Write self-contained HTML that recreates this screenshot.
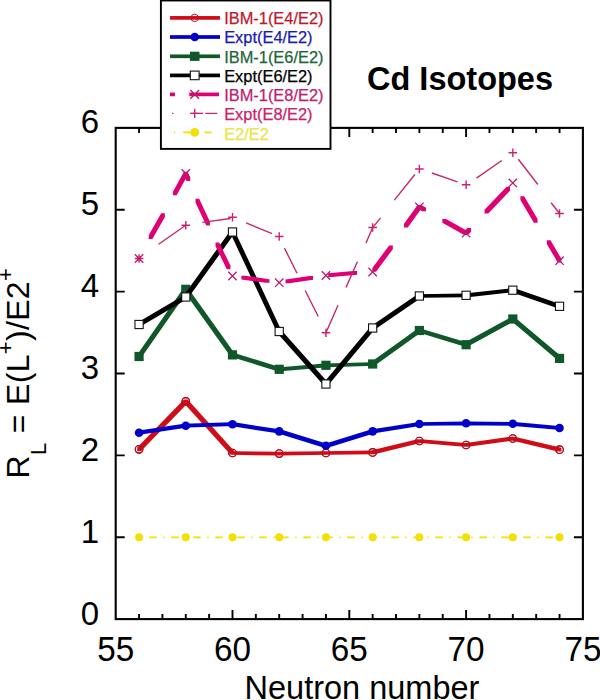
<!DOCTYPE html><html><head><meta charset="utf-8"><style>html,body{margin:0;padding:0;background:#fff;width:600px;height:700px;overflow:hidden}svg{display:block}text{font-family:"Liberation Sans",sans-serif}</style></head><body>
<svg width="600" height="700" viewBox="0 0 600 700">
<rect width="600" height="700" fill="#fff"/>
<rect x="115.7" y="127.88" width="467.20" height="491.22" fill="none" stroke="#000" stroke-width="2.1"/>
<path d="M139.06,619.10v-5M139.06,127.88v5M162.42,619.10v-5M162.42,127.88v5M185.78,619.10v-5M185.78,127.88v5M209.14,619.10v-5M209.14,127.88v5M232.50,619.10v-9M232.50,127.88v9M255.86,619.10v-5M255.86,127.88v5M279.22,619.10v-5M279.22,127.88v5M302.58,619.10v-5M302.58,127.88v5M325.94,619.10v-5M325.94,127.88v5M349.30,619.10v-9M349.30,127.88v9M372.66,619.10v-5M372.66,127.88v5M396.02,619.10v-5M396.02,127.88v5M419.38,619.10v-5M419.38,127.88v5M442.74,619.10v-5M442.74,127.88v5M466.10,619.10v-9M466.10,127.88v9M489.46,619.10v-5M489.46,127.88v5M512.82,619.10v-5M512.82,127.88v5M536.18,619.10v-5M536.18,127.88v5M559.54,619.10v-5M559.54,127.88v5M115.70,537.23h9M582.90,537.23h-9M115.70,455.36h9M582.90,455.36h-9M115.70,373.49h9M582.90,373.49h-9M115.70,291.62h9M582.90,291.62h-9M115.70,209.75h9M582.90,209.75h-9" stroke="#000" stroke-width="1.9" fill="none"/>
<text x="99.2" y="624.70" font-size="33" text-anchor="end">0</text>
<text x="99.2" y="542.83" font-size="33" text-anchor="end">1</text>
<text x="99.2" y="460.96" font-size="33" text-anchor="end">2</text>
<text x="99.2" y="379.09" font-size="33" text-anchor="end">3</text>
<text x="99.2" y="297.22" font-size="33" text-anchor="end">4</text>
<text x="99.2" y="215.35" font-size="33" text-anchor="end">5</text>
<text x="99.2" y="133.48" font-size="33" text-anchor="end">6</text>
<text transform="translate(115.70,661.3) scale(0.965,1)" font-size="34.5" text-anchor="middle">55</text>
<text transform="translate(232.50,661.3) scale(0.965,1)" font-size="34.5" text-anchor="middle">60</text>
<text transform="translate(349.30,661.3) scale(0.965,1)" font-size="34.5" text-anchor="middle">65</text>
<text transform="translate(466.10,661.3) scale(0.965,1)" font-size="34.5" text-anchor="middle">70</text>
<text transform="translate(582.90,661.3) scale(0.965,1)" font-size="34.5" text-anchor="middle">75</text>
<text x="362" y="699.3" font-size="32.5" text-anchor="middle">Neutron number</text>
<text transform="translate(29.3,478.4) rotate(-90)" font-size="32" letter-spacing="0.32">R<tspan font-size="22" dy="16.5">L</tspan><tspan dy="-16.5"> = E(L</tspan><tspan font-size="22" dy="-16.6">+</tspan><tspan dy="16.6">)/E2</tspan><tspan font-size="22" dy="-16.6">+</tspan></text>
<text x="367" y="89.6" font-size="32.5" font-weight="bold">Cd Isotopes</text>
<polyline points="139.06,537.3 185.78,537.3 232.50,537.3 279.22,537.3 325.94,537.3 372.66,537.3 419.38,537.3 466.10,537.3 512.82,537.3 559.54,537.3" fill="none" stroke="#f2e000" stroke-width="1.7" stroke-dasharray="7.5 6.5 1.3 6.71" stroke-dashoffset="11.87"/>
<circle cx="139.06" cy="537.3" r="4" fill="#f2e000"/>
<circle cx="185.78" cy="537.3" r="4" fill="#f2e000"/>
<circle cx="232.50" cy="537.3" r="4" fill="#f2e000"/>
<circle cx="279.22" cy="537.3" r="4" fill="#f2e000"/>
<circle cx="325.94" cy="537.3" r="4" fill="#f2e000"/>
<circle cx="372.66" cy="537.3" r="4" fill="#f2e000"/>
<circle cx="419.38" cy="537.3" r="4" fill="#f2e000"/>
<circle cx="466.10" cy="537.3" r="4" fill="#f2e000"/>
<circle cx="512.82" cy="537.3" r="4" fill="#f2e000"/>
<circle cx="559.54" cy="537.3" r="4" fill="#f2e000"/>
<circle cx="139.06" cy="449.3" r="3.8" fill="#fff" stroke="#a8101c" stroke-width="1.1"/>
<circle cx="185.78" cy="401.4" r="3.8" fill="#fff" stroke="#a8101c" stroke-width="1.1"/>
<circle cx="232.50" cy="453" r="3.8" fill="#fff" stroke="#a8101c" stroke-width="1.1"/>
<circle cx="279.22" cy="453.6" r="3.8" fill="#fff" stroke="#a8101c" stroke-width="1.1"/>
<circle cx="325.94" cy="453" r="3.8" fill="#fff" stroke="#a8101c" stroke-width="1.1"/>
<circle cx="372.66" cy="452.4" r="3.8" fill="#fff" stroke="#a8101c" stroke-width="1.1"/>
<circle cx="419.38" cy="441" r="3.8" fill="#fff" stroke="#a8101c" stroke-width="1.1"/>
<circle cx="466.10" cy="445" r="3.8" fill="#fff" stroke="#a8101c" stroke-width="1.1"/>
<circle cx="512.82" cy="438.5" r="3.8" fill="#fff" stroke="#a8101c" stroke-width="1.1"/>
<circle cx="559.54" cy="449.7" r="3.8" fill="#fff" stroke="#a8101c" stroke-width="1.1"/>
<path d="M137.21,447.45L183.93,399.55L187.63,399.55L187.63,403.25L140.91,451.15L137.21,451.15ZM183.93,399.55L187.63,399.55L234.35,451.15L234.35,454.85L230.65,454.85L183.93,403.25ZM230.65,451.15L234.35,451.15L281.07,451.75L281.07,455.45L277.37,455.45L230.65,454.85ZM277.37,451.75L324.09,451.15L327.79,451.15L327.79,454.85L281.07,455.45L277.37,455.45ZM324.09,451.15L370.81,450.55L374.51,450.55L374.51,454.25L327.79,454.85L324.09,454.85ZM370.81,450.55L417.53,439.15L421.23,439.15L421.23,442.85L374.51,454.25L370.81,454.25ZM417.53,439.15L421.23,439.15L467.95,443.15L467.95,446.85L464.25,446.85L417.53,442.85ZM464.25,443.15L510.97,436.65L514.67,436.65L514.67,440.35L467.95,446.85L464.25,446.85ZM510.97,436.65L514.67,436.65L561.39,447.85L561.39,451.55L557.69,451.55L510.97,440.35Z" fill="#d00c18"/>
<circle cx="139.06" cy="449.3" r="3.8" fill="none" stroke="#a8101c" stroke-width="1.1"/>
<circle cx="185.78" cy="401.4" r="3.8" fill="none" stroke="#a8101c" stroke-width="1.1"/>
<circle cx="232.50" cy="453" r="3.8" fill="none" stroke="#a8101c" stroke-width="1.1"/>
<circle cx="279.22" cy="453.6" r="3.8" fill="none" stroke="#a8101c" stroke-width="1.1"/>
<circle cx="325.94" cy="453" r="3.8" fill="none" stroke="#a8101c" stroke-width="1.1"/>
<circle cx="372.66" cy="452.4" r="3.8" fill="none" stroke="#a8101c" stroke-width="1.1"/>
<circle cx="419.38" cy="441" r="3.8" fill="none" stroke="#a8101c" stroke-width="1.1"/>
<circle cx="466.10" cy="445" r="3.8" fill="none" stroke="#a8101c" stroke-width="1.1"/>
<circle cx="512.82" cy="438.5" r="3.8" fill="none" stroke="#a8101c" stroke-width="1.1"/>
<circle cx="559.54" cy="449.7" r="3.8" fill="none" stroke="#a8101c" stroke-width="1.1"/>
<path d="M137.21,430.85L183.93,423.85L187.63,423.85L187.63,427.55L140.91,434.55L137.21,434.55ZM183.93,423.85L230.65,422.35L234.35,422.35L234.35,426.05L187.63,427.55L183.93,427.55ZM230.65,422.35L234.35,422.35L281.07,429.55L281.07,433.25L277.37,433.25L230.65,426.05ZM277.37,429.55L281.07,429.55L327.79,443.95L327.79,447.65L324.09,447.65L277.37,433.25ZM324.09,443.95L370.81,429.55L374.51,429.55L374.51,433.25L327.79,447.65L324.09,447.65ZM370.81,429.55L417.53,422.15L421.23,422.15L421.23,425.85L374.51,433.25L370.81,433.25ZM417.53,422.15L464.25,421.45L467.95,421.45L467.95,425.15L421.23,425.85L417.53,425.85ZM464.25,421.45L467.95,421.45L514.67,421.95L514.67,425.65L510.97,425.65L464.25,425.15ZM510.97,421.95L514.67,421.95L561.39,426.15L561.39,429.85L557.69,429.85L510.97,425.65Z" fill="#0000c8"/>
<circle cx="139.06" cy="432.7" r="4.3" fill="#0000c8"/>
<circle cx="185.78" cy="425.7" r="4.3" fill="#0000c8"/>
<circle cx="232.50" cy="424.2" r="4.3" fill="#0000c8"/>
<circle cx="279.22" cy="431.4" r="4.3" fill="#0000c8"/>
<circle cx="325.94" cy="445.8" r="4.3" fill="#0000c8"/>
<circle cx="372.66" cy="431.4" r="4.3" fill="#0000c8"/>
<circle cx="419.38" cy="424" r="4.3" fill="#0000c8"/>
<circle cx="466.10" cy="423.3" r="4.3" fill="#0000c8"/>
<circle cx="512.82" cy="423.8" r="4.3" fill="#0000c8"/>
<circle cx="559.54" cy="428" r="4.3" fill="#0000c8"/>
<path d="M137.21,354.65L183.93,287.45L187.63,287.45L187.63,291.15L140.91,358.35L137.21,358.35ZM183.93,287.45L187.63,287.45L234.35,353.05L234.35,356.75L230.65,356.75L183.93,291.15ZM230.65,353.05L234.35,353.05L281.07,367.45L281.07,371.15L277.37,371.15L230.65,356.75ZM277.37,367.45L324.09,363.45L327.79,363.45L327.79,367.15L281.07,371.15L277.37,371.15ZM324.09,363.45L370.81,362.15L374.51,362.15L374.51,365.85L327.79,367.15L324.09,367.15ZM370.81,362.15L417.53,328.65L421.23,328.65L421.23,332.35L374.51,365.85L370.81,365.85ZM417.53,328.65L421.23,328.65L467.95,342.85L467.95,346.55L464.25,346.55L417.53,332.35ZM464.25,342.85L510.97,317.15L514.67,317.15L514.67,320.85L467.95,346.55L464.25,346.55ZM510.97,317.15L514.67,317.15L561.39,356.55L561.39,360.25L557.69,360.25L510.97,320.85Z" fill="#10582a"/>
<rect x="134.46" y="351.90" width="9.2" height="9.2" fill="#10582a"/>
<rect x="181.18" y="284.70" width="9.2" height="9.2" fill="#10582a"/>
<rect x="227.90" y="350.30" width="9.2" height="9.2" fill="#10582a"/>
<rect x="274.62" y="364.70" width="9.2" height="9.2" fill="#10582a"/>
<rect x="321.34" y="360.70" width="9.2" height="9.2" fill="#10582a"/>
<rect x="368.06" y="359.40" width="9.2" height="9.2" fill="#10582a"/>
<rect x="414.78" y="325.90" width="9.2" height="9.2" fill="#10582a"/>
<rect x="461.50" y="340.10" width="9.2" height="9.2" fill="#10582a"/>
<rect x="508.22" y="314.40" width="9.2" height="9.2" fill="#10582a"/>
<rect x="554.94" y="353.80" width="9.2" height="9.2" fill="#10582a"/>
<path d="M137.21,322.65L183.93,295.15L187.63,295.15L187.63,298.85L140.91,326.35L137.21,326.35ZM183.93,295.15L230.65,230.15L234.35,230.15L234.35,233.85L187.63,298.85L183.93,298.85ZM230.65,230.15L234.35,230.15L281.07,329.65L281.07,333.35L277.37,333.35L230.65,233.85ZM277.37,329.65L281.07,329.65L327.79,382.15L327.79,385.85L324.09,385.85L277.37,333.35ZM324.09,382.15L370.81,326.15L374.51,326.15L374.51,329.85L327.79,385.85L324.09,385.85ZM370.81,326.15L417.53,294.15L421.23,294.15L421.23,297.85L374.51,329.85L370.81,329.85ZM417.53,294.15L464.25,293.45L467.95,293.45L467.95,297.15L421.23,297.85L417.53,297.85ZM464.25,293.45L510.97,288.35L514.67,288.35L514.67,292.05L467.95,297.15L464.25,297.15ZM510.97,288.35L514.67,288.35L561.39,304.45L561.39,308.15L557.69,308.15L510.97,292.05Z" fill="#000"/>
<rect x="134.96" y="320.40" width="8.2" height="8.2" fill="#fff" stroke="#111" stroke-width="1.1"/>
<rect x="181.68" y="292.90" width="8.2" height="8.2" fill="#fff" stroke="#111" stroke-width="1.1"/>
<rect x="228.40" y="227.90" width="8.2" height="8.2" fill="#fff" stroke="#111" stroke-width="1.1"/>
<rect x="275.12" y="327.40" width="8.2" height="8.2" fill="#fff" stroke="#111" stroke-width="1.1"/>
<rect x="321.84" y="379.90" width="8.2" height="8.2" fill="#fff" stroke="#111" stroke-width="1.1"/>
<rect x="368.56" y="323.90" width="8.2" height="8.2" fill="#fff" stroke="#111" stroke-width="1.1"/>
<rect x="415.28" y="291.90" width="8.2" height="8.2" fill="#fff" stroke="#111" stroke-width="1.1"/>
<rect x="462.00" y="291.20" width="8.2" height="8.2" fill="#fff" stroke="#111" stroke-width="1.1"/>
<rect x="508.72" y="286.10" width="8.2" height="8.2" fill="#fff" stroke="#111" stroke-width="1.1"/>
<rect x="555.44" y="302.20" width="8.2" height="8.2" fill="#fff" stroke="#111" stroke-width="1.1"/>
<path d="M148.70,235.26L161.20,213.24L164.90,213.24L164.90,216.94L152.40,238.96L148.70,238.96ZM172.96,191.65L183.93,171.65L187.63,171.65L187.63,175.35L176.66,195.35L172.96,195.35ZM183.93,171.65L187.63,171.65L190.22,177.22L190.22,180.92L186.52,180.92L183.93,175.35ZM195.49,198.78L199.19,198.78L209.91,221.82L209.91,225.52L206.21,225.52L195.49,202.48ZM215.53,242.47L219.23,242.47L230.47,265.53L230.47,269.23L226.77,269.23L215.53,246.17ZM241.42,275.74L245.12,275.74L269.48,279.16L269.48,282.86L265.78,282.86L241.42,279.44ZM285.53,279.45L309.37,275.95L313.07,275.95L313.07,279.65L289.23,283.15L285.53,283.15ZM328.16,273.36L353.44,270.94L357.14,270.94L357.14,274.64L331.86,277.06L328.16,277.06ZM372.35,268.07L389.11,245.43L392.81,245.43L392.81,249.13L376.05,271.77L372.35,271.77ZM404.05,223.85L417.53,204.95L421.23,204.95L421.23,208.65L407.75,227.55L404.05,227.55ZM417.53,204.95L421.23,204.95L426.05,207.63L426.05,211.33L422.35,211.33L417.53,208.65ZM442.34,218.99L446.04,218.99L467.95,231.35L467.95,235.05L464.25,235.05L442.34,222.69ZM464.25,231.35L467.38,227.97L471.08,227.97L471.08,231.67L467.95,235.05L464.25,235.05ZM484.56,209.86L506.34,187.04L510.04,187.04L510.04,190.74L488.26,213.56L484.56,213.56ZM520.44,196.33L524.14,196.33L537.56,218.97L537.56,222.67L533.86,222.67L520.44,200.03ZM546.83,240.33L550.53,240.33L561.39,258.85L561.39,262.55L557.69,262.55L546.83,244.03Z" fill="#df0074"/>
<rect x="137.06" y="256.50" width="4" height="4" fill="#df0074"/>
<path d="M134.86,254.30L143.26,262.70M134.86,262.70L143.26,254.30" stroke="#b81c6a" stroke-width="1.3"/>
<path d="M181.58,169.30L189.98,177.70M181.58,177.70L189.98,169.30" stroke="#b81c6a" stroke-width="1.3"/>
<path d="M228.30,271.80L236.70,280.20M228.30,280.20L236.70,271.80" stroke="#b81c6a" stroke-width="1.3"/>
<path d="M275.02,278.50L283.42,286.90M275.02,286.90L283.42,278.50" stroke="#b81c6a" stroke-width="1.3"/>
<path d="M321.74,271.30L330.14,279.70M321.74,279.70L330.14,271.30" stroke="#b81c6a" stroke-width="1.3"/>
<path d="M368.46,267.80L376.86,276.20M368.46,276.20L376.86,267.80" stroke="#b81c6a" stroke-width="1.3"/>
<path d="M415.18,202.60L423.58,211.00M415.18,211.00L423.58,202.60" stroke="#b81c6a" stroke-width="1.3"/>
<path d="M461.90,229.00L470.30,237.40M461.90,237.40L470.30,229.00" stroke="#b81c6a" stroke-width="1.3"/>
<path d="M508.62,178.70L517.02,187.10M508.62,187.10L517.02,178.70" stroke="#b81c6a" stroke-width="1.3"/>
<path d="M555.34,256.50L563.74,264.90M555.34,264.90L563.74,256.50" stroke="#b81c6a" stroke-width="1.3"/>
<path d="M158.60,244.30L185.78,225.30M202.30,222.40L230.60,218.50M246.10,222.90L272.10,233.70M284.40,248.10L297.00,273.20M305.20,290.50L318.20,316.50M325.94,332.80L338.00,305.20M346.00,287.40L357.40,261.70M366.00,243.10L372.66,227.50L380.60,217.90M394.30,200.10L414.90,174.50M431.90,173.00L457.60,181.80M476.50,178.10L501.80,160.50M518.30,159.30L537.90,184.50M551.10,202.70L559.54,213.50" fill="none" stroke="#c42870" stroke-width="1.4"/>
<path d="M134.76,258.50H143.36M139.06,254.20V262.80" stroke="#cc2070" stroke-width="1.4"/>
<path d="M181.48,225.30H190.08M185.78,221.00V229.60" stroke="#cc2070" stroke-width="1.4"/>
<path d="M228.20,217.30H236.80M232.50,213.00V221.60" stroke="#cc2070" stroke-width="1.4"/>
<path d="M274.92,236.50H283.52M279.22,232.20V240.80" stroke="#cc2070" stroke-width="1.4"/>
<path d="M321.64,332.80H330.24M325.94,328.50V337.10" stroke="#cc2070" stroke-width="1.4"/>
<path d="M368.36,227.50H376.96M372.66,223.20V231.80" stroke="#cc2070" stroke-width="1.4"/>
<path d="M415.08,169.00H423.68M419.38,164.70V173.30" stroke="#cc2070" stroke-width="1.4"/>
<path d="M461.80,184.80H470.40M466.10,180.50V189.10" stroke="#cc2070" stroke-width="1.4"/>
<path d="M508.52,152.80H517.12M512.82,148.50V157.10" stroke="#cc2070" stroke-width="1.4"/>
<path d="M555.24,213.50H563.84M559.54,209.20V217.80" stroke="#cc2070" stroke-width="1.4"/>
<rect x="160.9" y="0.5" width="169.6" height="148.4" fill="#fff" stroke="#000" stroke-width="1.9"/>
<circle cx="194.7" cy="17.9" r="3.7" fill="#fff"/><rect x="170" y="16.05" width="50.00" height="3.7" fill="#d00c18"/><circle cx="194.7" cy="17.9" r="3.7" fill="none" stroke="#b8101c" stroke-width="1"/>
<rect x="170" y="35.15" width="50.00" height="3.7" fill="#0000c8"/><circle cx="194.7" cy="37.0" r="4.3" fill="#0000c8"/>
<rect x="170" y="54.45" width="50.00" height="3.7" fill="#10582a"/><rect x="189.89999999999998" y="51.699999999999996" width="9.6" height="9.2" fill="#10582a"/>
<rect x="170" y="73.55" width="50.00" height="3.7" fill="#000"/><rect x="190.29999999999998" y="71.10000000000001" width="8.8" height="8.6" fill="#fff" stroke="#111" stroke-width="1.1"/>
<rect x="170" y="92.55" width="5.00" height="3.7" fill="#df0074"/><rect x="189.3" y="92.55" width="29.70" height="3.7" fill="#df0074"/><path d="M190.30,90.00L199.10,98.80M190.30,98.80L199.10,90.00" stroke="#b81c6a" stroke-width="1.3"/>
<path d="M172,113.4H173.4M191.3,113.4H203.3M205.3,113.4H217.3" stroke="#c42870" stroke-width="1.4"/><path d="M190.10,113.40H199.30M194.70,108.80V118.00" stroke="#cc2070" stroke-width="1.4"/>
<path d="M174,132.3H175.3M183.2,132.3H190.7M204.6,132.3H211.5" stroke="#f2e000" stroke-width="1.7"/><circle cx="194.7" cy="132.3" r="4.4" fill="#f2e000"/>
<text x="224.2" y="24" font-size="16.4" fill="#c0182a" stroke="#c0182a" stroke-width="0.25">IBM-1(E4/E2)</text>
<text x="224.2" y="42.9" font-size="16.4" fill="#1a1ab0" stroke="#1a1ab0" stroke-width="0.25">Expt(E4/E2)</text>
<text x="224.2" y="62.6" font-size="16.4" fill="#1d6638" stroke="#1d6638" stroke-width="0.25">IBM-1(E6/E2)</text>
<text x="224.2" y="81.9" font-size="16.4" fill="#000" stroke="#000" stroke-width="0.25">Expt(E6/E2)</text>
<text x="224.2" y="101.1" font-size="16.4" fill="#c01c70" stroke="#c01c70" stroke-width="0.25">IBM-1(E8/E2)</text>
<text x="224.2" y="120.4" font-size="16.4" fill="#cc2068" stroke="#cc2068" stroke-width="0.25">Expt(E8/E2)</text>
<text x="224.2" y="139.7" font-size="16.4" fill="#eee244" stroke="#eee244" stroke-width="0.25">E2/E2</text>
</svg></body></html>
